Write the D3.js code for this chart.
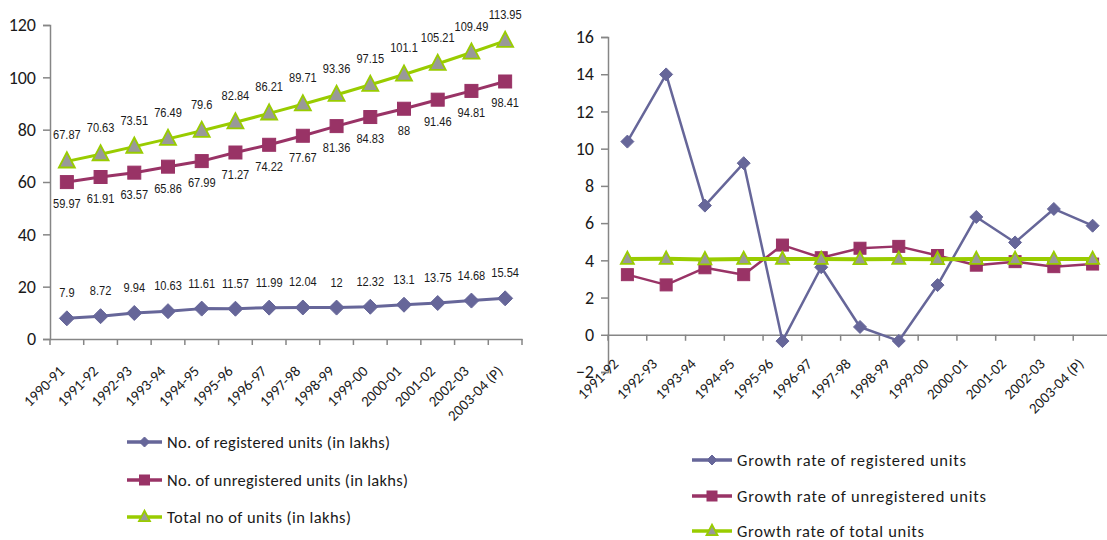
<!DOCTYPE html>
<html>
<head>
<meta charset="utf-8">
<script src="https://cdn.jsdelivr.net/npm/d3@7"></script>
<style>
  html, body { margin: 0; padding: 0; background: #fff; }
  svg { display: block; }
  .tick-lbl { font-family: Carlito, Lato, "Open Sans", sans-serif; fill: #1a1a1a; }
  .dlbl { font-family: "Liberation Sans Narrow", "Arial Narrow", "Liberation Sans", Arial, sans-serif; fill: #1a1a1a; }
  .leg { font-family: Carlito, Lato, "Open Sans", sans-serif; fill: #1a1a1a; }
</style>
</head>
<body>
<svg id="chart" width="1107" height="540"></svg>
<script>
// ---------- DATA ----------
const years1 = ["1990-91","1991-92","1992-93","1993-94","1994-95","1995-96","1996-97","1997-98","1998-99","1999-00","2000-01","2001-02","2002-03","2003-04 (P)"];
const registeredUnits   = [7.9, 8.72, 9.94, 10.63, 11.61, 11.57, 11.99, 12.04, 12, 12.32, 13.1, 13.75, 14.68, 15.54];
const unregisteredUnits = [59.97, 61.91, 63.57, 65.86, 67.99, 71.27, 74.22, 77.67, 81.36, 84.83, 88, 91.46, 94.81, 98.41];
const totalUnits        = [67.87, 70.63, 73.51, 76.49, 79.6, 82.84, 86.21, 89.71, 93.36, 97.15, 101.1, 105.21, 109.49, 113.95];
const registeredLabels   = ["7.9","8.72","9.94","10.63","11.61","11.57","11.99","12.04","12","12.32","13.1","13.75","14.68","15.54"];
const unregisteredLabels = ["59.97","61.91","63.57","65.86","67.99","71.27","74.22","77.67","81.36","84.83","88","91.46","94.81","98.41"];
const totalLabels        = ["67.87","70.63","73.51","76.49","79.6","82.84","86.21","89.71","93.36","97.15","101.1","105.21","109.49","113.95"];
const yTicks1 = [0, 20, 40, 60, 80, 100, 120];
const legend1 = ["No. of registered units (in lakhs)", "No. of unregistered units (in lakhs)", "Total no of units (in lakhs)"];

const years2 = ["1991-92","1992-93","1993-94","1994-95","1995-96","1996-97","1997-98","1998-99","1999-00","2000-01","2001-02","2002-03","2003-04 (P)"];
const growthRegistered   = [10.38, 13.99, 6.94, 9.22, -0.34, 3.63, 0.42, -0.33, 2.67, 6.33, 4.96, 6.76, 5.86];
const growthUnregistered = [3.23, 2.68, 3.6, 3.23, 4.82, 4.14, 4.65, 4.75, 4.26, 3.74, 3.93, 3.66, 3.8];
const growthTotal        = [4.07, 4.08, 4.05, 4.07, 4.07, 4.07, 4.06, 4.07, 4.06, 4.07, 4.07, 4.07, 4.07];
const yTicks2 = [-2, 0, 2, 4, 6, 8, 10, 12, 14, 16];
const legend2 = ["Growth rate of registered units", "Growth rate of unregistered units", "Growth rate of total units"];

// ---------- STYLE ----------
const C_BLUE = "#666699", C_RED = "#993366", C_GREEN = "#99CC00", C_GRAY = "#999999", C_AXIS = "#868686";

const svg = d3.select("#chart");
svg.append("rect").attr("width", 1107).attr("height", 540).attr("fill", "#fff");

function marker(g, type, x, y, s) {
  if (type === "diamond") {
    g.append("path").attr("d", `M${x},${y - s}L${x + s},${y}L${x},${y + s}L${x - s},${y}Z`).attr("fill", C_BLUE).attr("stroke", C_BLUE).attr("stroke-width", 1);
  } else if (type === "square") {
    g.append("rect").attr("x", x - s).attr("y", y - s).attr("width", 2 * s).attr("height", 2 * s).attr("fill", C_RED).attr("stroke", C_RED).attr("stroke-width", 1);
  } else {
    const h = s * 1.9;
    g.append("path").attr("d", `M${x},${y - h * 0.6}L${x + s},${y + h * 0.4}L${x - s},${y + h * 0.4}Z`).attr("fill", C_GRAY).attr("stroke", C_GREEN).attr("stroke-width", 1.8);
  }
}

function drawChart(cfg) {
  const g = svg.append("g");
  const x = d3.scaleBand().domain(cfg.cats).range([cfg.x0, cfg.x1]);
  const y = d3.scaleLinear().domain(cfg.yDomain).range([cfg.yBottom, cfg.yTop]);
  const cx = c => x(c) + x.bandwidth() / 2;

  // y axis
  const ya = g.append("g").attr("transform", `translate(${cfg.x0},0)`)
    .call(d3.axisLeft(y).tickValues(cfg.yTicks).tickSize(7).tickPadding(7).tickFormat(d3.format("d")));
  ya.select(".domain").attr("stroke", C_AXIS).attr("stroke-width", 1.5);
  ya.selectAll(".tick line").attr("stroke", C_AXIS).attr("stroke-width", 1.5);
  ya.selectAll(".tick text").attr("class", "tick-lbl").attr("font-size", cfg.yFont).attr("fill", "#1a1a1a");

  // x axis
  const y0 = y(0);
  const xa = g.append("g").attr("transform", `translate(0,${y0})`)
    .call(d3.axisBottom(x).tickSize(0).tickFormat(""));
  xa.select(".domain").attr("stroke", C_AXIS).attr("stroke-width", 1.5);
  xa.selectAll(".tick").remove();
  const bounds = cfg.cats.map(c => x(c)).concat([x(cfg.cats[cfg.cats.length - 1]) + x.bandwidth()]);
  g.selectAll(null).data(bounds).enter().append("line")
    .attr("x1", d => d).attr("x2", d => d).attr("y1", y0).attr("y2", y0 + 6)
    .attr("stroke", C_AXIS).attr("stroke-width", 1.5);
  g.selectAll(null).data(cfg.cats).enter().append("text")
    .attr("class", "tick-lbl").attr("font-size", cfg.xFont)
    .attr("text-anchor", "end")
    .attr("transform", d => `translate(${cx(d) + cfg.xLblDx},${y0 + cfg.xLblDy}) rotate(-45)`)
    .text(d => d);

  // series
  const line = d3.line().x((d, i) => cx(cfg.cats[i])).y(d => y(d));
  cfg.series.forEach(s => {
    g.append("path").datum(s.values).attr("d", line)
      .attr("fill", "none").attr("stroke", s.color).attr("stroke-width", s.width).attr("stroke-linejoin", "round");
    s.values.forEach((v, i) => marker(g, s.marker, cx(cfg.cats[i]), y(v), s.size));
    if (s.labels) {
      g.selectAll(null).data(s.labels).enter().append("text")
        .attr("class", "dlbl").attr("font-size", 13.5).attr("text-anchor", "middle")
        .attr("transform", (d, i) => `translate(${cx(cfg.cats[i])},${y(s.values[i]) + s.labelDy}) scale(0.82,1)`)
        .text(d => d);
    }
  });

  // legend
  cfg.legend.forEach((name, i) => {
    const ly = cfg.legY[i];
    const s = cfg.series[i];
    g.append("line").attr("x1", cfg.legX0).attr("x2", cfg.legX1).attr("y1", ly).attr("y2", ly)
      .attr("stroke", s.color).attr("stroke-width", 3.5);
    marker(g, s.marker, (cfg.legX0 + cfg.legX1) / 2, ly, s.marker === "triangle" ? 5.5 : 5);
    const t = g.append("text").attr("class", "leg").attr("font-size", cfg.legFont)
      .attr("x", cfg.legX1 + 5).attr("y", ly + 5.5).text(name);
    const len = t.node().getComputedTextLength();
    const ls = (cfg.legW[i] - len) / Math.max(1, name.length - 1);
    t.attr("letter-spacing", Math.max(-0.5, Math.min(1.5, ls)));
  });
}

drawChart({
  cats: years1, x0: 50, x1: 522, yDomain: [0, 120], yBottom: 339, yTop: 25,
  yTicks: yTicks1, yFont: 18, xFont: 15, xLblDx: -1.5, xLblDy: 33,
  series: [
    { values: registeredUnits, color: C_BLUE, width: 3, marker: "diamond", size: 7.5, labels: registeredLabels, labelDy: -21 },
    { values: unregisteredUnits, color: C_RED, width: 3, marker: "square", size: 6.5, labels: unregisteredLabels, labelDy: 26 },
    { values: totalUnits, color: C_GREEN, width: 3, marker: "triangle", size: 8, labels: totalLabels, labelDy: -22 }
  ],
  legend: legend1, legX0: 127, legX1: 162, legY: [442, 480, 517], legFont: 16.5, legW: [223, 241, 184]
});

drawChart({
  cats: years2, x0: 608, x1: 1112, yDomain: [-2, 16], yBottom: 372, yTop: 37,
  yTicks: yTicks2, yFont: 18, xFont: 15, xLblDx: -8, xLblDy: 30,
  series: [
    { values: growthRegistered, color: C_BLUE, width: 2.5, marker: "diamond", size: 6.5 },
    { values: growthUnregistered, color: C_RED, width: 2.5, marker: "square", size: 6 },
    { values: growthTotal, color: C_GREEN, width: 4, marker: "triangle", size: 6.5 }
  ],
  legend: legend2, legX0: 692, legX1: 732, legY: [460, 496, 531], legFont: 16.5, legW: [229, 249, 187]
});
</script>
</body>
</html>
